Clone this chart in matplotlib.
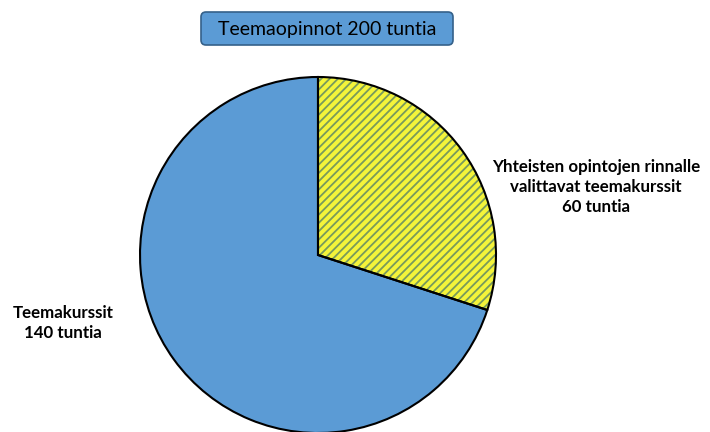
import matplotlib.pyplot as plt
from matplotlib.patches import FancyBboxPatch

plt.rcParams['font.family'] = ['Lato', 'DejaVu Sans']
plt.rcParams['hatch.linewidth'] = 1.3

title = 'Teemaopinnot 200 tuntia'
hours = [60, 140]
labels = ['Yhteisten opintojen rinnalle\nvalittavat teemakurssit\n60 tuntia',
          'Teemakurssit\n140 tuntia']
colors = ['#F4F43A', '#5B9BD5']

fig = plt.figure(figsize=(7.1, 4.32), dpi=100)
ax = fig.add_axes([0, 0, 1, 1])

# pie drawn in pixel-like coords (y up)
cx, cy, r = 318, 432 - 255, 178
wedges, _ = ax.pie(hours, colors=colors, startangle=90, counterclock=False,
                   center=(cx, cy), radius=r, frame=True,
                   wedgeprops=dict(linewidth=0, edgecolor='#789A5C'))
wedges[0].set_hatch('////')
ax.pie(hours, startangle=90, counterclock=False, center=(cx, cy), radius=r,
       frame=True, wedgeprops=dict(fill=False, linewidth=1.5, edgecolor='black'))

ax.set_xlim(0, 710)
ax.set_ylim(0, 432)
ax.set_aspect('equal')
ax.axis('off')

ax.text(596, 432 - 187, labels[0], ha='center', va='center', fontsize=12.2,
        fontweight='bold', linespacing=1.3)
ax.text(63, 432 - 323, labels[1], ha='center', va='center', fontsize=12.2,
        fontweight='bold', linespacing=1.3)

box = FancyBboxPatch((201, 432 - 45), 252, 33, boxstyle='round,pad=0,rounding_size=5',
                     facecolor='#5B9BD5', edgecolor='#35618A', linewidth=1.2)
ax.add_patch(box)
ax.text(327, 432 - 29, title, ha='center', va='center', fontsize=14)

fig.savefig('out.png', dpi=100)
